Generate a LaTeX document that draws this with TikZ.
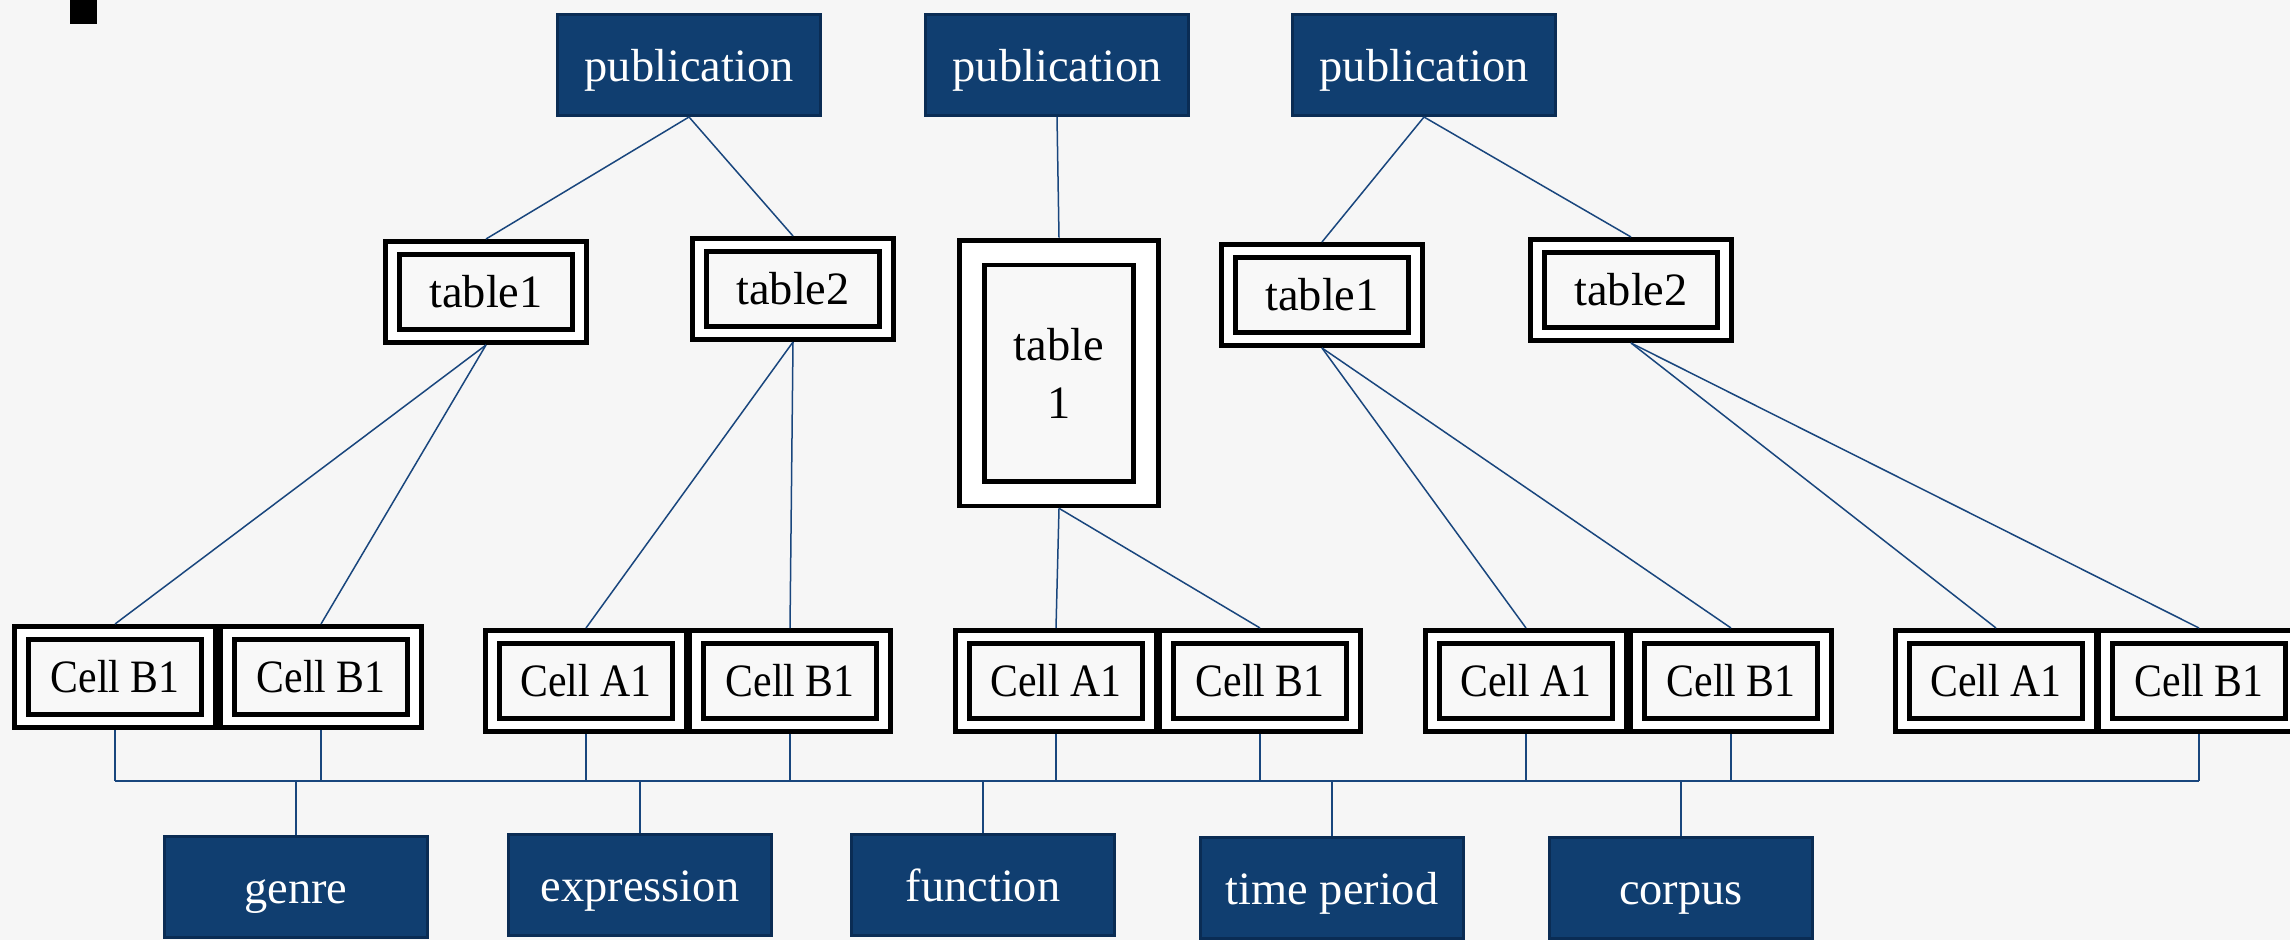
\documentclass[tikz,border=0pt]{standalone}
\usepackage{fontspec}
\setmainfont{Liberation Serif}
\newfontfamily\cellfont[FakeStretch=0.9]{Liberation Serif}
\definecolor{pubblue}{RGB}{16,62,112}
\definecolor{pubedge}{RGB}{10,44,84}
\definecolor{linkblue}{RGB}{25,70,125}
\definecolor{cellgray}{RGB}{248,248,248}
\definecolor{backgray}{RGB}{246,246,246}
\tikzset{
  pubbox/.style={draw=pubedge,fill=pubblue,line width=0.3mm,text=white,minimum width=26.3mm,minimum height=10.1mm,inner sep=0pt,text height=9.5pt,text depth=0pt,font=\fontsize{13.2}{16.5}\selectfont},
  tabbox/.style={draw=black,double=white,double distance=0.85mm,line width=0.48mm,fill=cellgray,minimum width=18.7mm,minimum height=8.8mm,inner sep=0pt,outer sep=0.9mm,font=\fontsize{13.2}{16.5}\selectfont},
  tallbox/.style={tabbox,double distance=2mm,minimum width=17.4mm,minimum height=24.1mm,outer sep=1.48mm,align=center},
  cellbox/.style={tabbox,font=\cellfont\fontsize{13.2}{16.5}\selectfont},
  link/.style={draw=linkblue,line width=0.15mm}
}
\begin{document}
\begin{tikzpicture}[x=0.1mm,y=-0.1mm]
\useasboundingbox[fill=backgray] (0,0) rectangle (2290,940);
\fill[black] (70,0) rectangle (97,24);

\node[pubbox] (pubA) at (689,65) {publication};
\node[pubbox] (pubB) at (1057,65) {publication};
\node[pubbox] (pubC) at (1424,65) {publication};

\node[tabbox] (tabA) at (486,292) {table1};
\node[tabbox] (tabB) at (793,289) {table2};
\node[tallbox] (tabC) at (1059,373) {table\\1};
\node[tabbox] (tabD) at (1322,295) {table1};
\node[tabbox] (tabE) at (1631,290) {table2};

\foreach \n/\x/\y/\t in {c1/115/677/Cell B1,c2/321/677/Cell B1,c3/586/681/Cell A1,c4/790/681/Cell B1,
  c5/1056/681/Cell A1,c6/1260/681/Cell B1,c7/1526/681/Cell A1,c8/1731/681/Cell B1,
  c9/1996/681/Cell A1,c10/2199/681/Cell B1}
  \node[cellbox] (\n) at (\x,\y) {\t};

\node[pubbox] (genre) at (296,887) {genre};
\node[pubbox] (expr) at (640,885) {expression};
\node[pubbox] (func) at (983,885) {function};
\node[pubbox] (time) at (1332,888) {time period};
\node[pubbox] (corp) at (1681,888) {corpus};

\draw[link] (pubA.south) -- (tabA.north);
\draw[link] (pubA.south) -- (tabB.north);
\draw[link] (pubB.south) -- (tabC.north);
\draw[link] (pubC.south) -- (tabD.north);
\draw[link] (pubC.south) -- (tabE.north);
\foreach \t/\a/\b in {tabA/c1/c2,tabB/c3/c4,tabC/c5/c6,tabD/c7/c8,tabE/c9/c10}{
  \draw[link] (\t.south) -- (\a.north);
  \draw[link] (\t.south) -- (\b.north);
}

\coordinate (bus) at (0,781);
\foreach \c in {c1,c2,c3,c4,c5,c6,c7,c8,c10}
  \draw[link] (\c.south) -- (\c.south |- bus);
\draw[link] (c1.south |- bus) -- (c10.south |- bus);
\foreach \b in {genre,expr,func,time,corp}
  \draw[link] (\b.north) -- (\b.north |- bus);
\end{tikzpicture}
\end{document}
